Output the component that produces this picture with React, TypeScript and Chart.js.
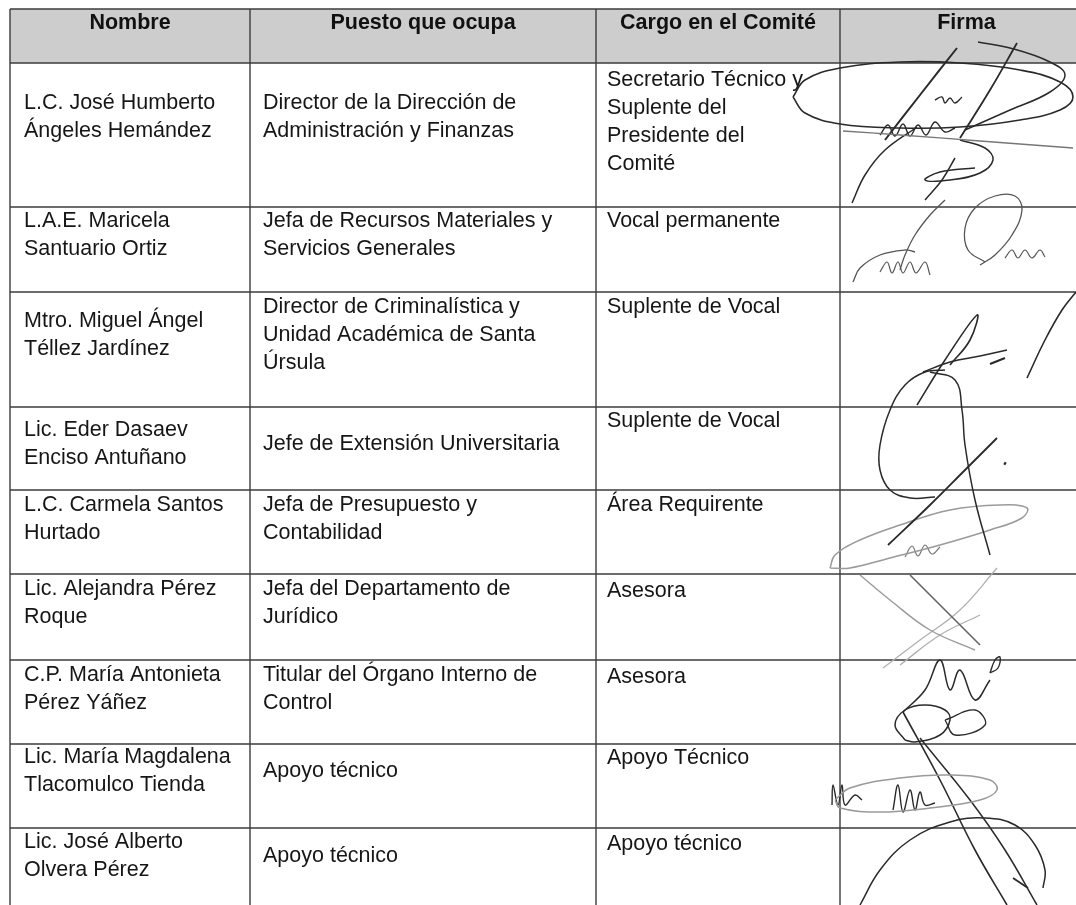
import React, { useEffect, useRef } from "react";
import { Chart, registerables } from "chart.js";

Chart.register(...registerables);

// ---------- table content ----------
const headers = ["Nombre", "Puesto que ocupa", "Cargo en el Comité", "Firma"];

const names = [
  "L.C. José Humberto\nÁngeles Hemández",
  "L.A.E. Maricela\nSantuario Ortiz",
  "Mtro. Miguel Ángel\nTéllez Jardínez",
  "Lic. Eder Dasaev\nEnciso Antuñano",
  "L.C. Carmela Santos\nHurtado",
  "Lic. Alejandra Pérez\nRoque",
  "C.P. María Antonieta\nPérez Yáñez",
  "Lic. María Magdalena\nTlacomulco Tienda",
  "Lic. José Alberto\nOlvera Pérez",
];

const puestos = [
  "Director de la Dirección de\nAdministración y Finanzas",
  "Jefa de Recursos Materiales y\nServicios Generales",
  "Director de Criminalística y\nUnidad Académica de Santa\nÚrsula",
  "Jefe de Extensión Universitaria",
  "Jefa de Presupuesto y\nContabilidad",
  "Jefa del Departamento de\nJurídico",
  "Titular del Órgano Interno de\nControl",
  "Apoyo técnico",
  "Apoyo técnico",
];

const cargos = [
  "Secretario Técnico y\nSuplente del\nPresidente del\nComité",
  "Vocal permanente",
  "Suplente de Vocal",
  "Suplente de Vocal",
  "Área Requirente",
  "Asesora",
  "Asesora",
  "Apoyo Técnico",
  "Apoyo técnico",
];

// ---------- layout (in scale units = page pixels) ----------
const colEdges = [10, 250, 596, 840, 1093];
const rowEdges = [9, 63, 207, 292, 407, 490, 574, 660, 744, 828];
const textX = [24, 263, 607];
const nameOffsets = [40, 14, 29, 23, 15, 15, 15, 13, 14];
const puestoOffsets = [40, 14, 15, 37, 15, 15, 15, 27, 28];
const cargoOffsets = [17, 14, 15, 14, 15, 17, 17, 14, 16];
const LINE_H = 28;

// ---------- signature strokes ----------
type P = [number, number];
const sig1Ellipse: P[] = [[793, 97], [805, 80], [840, 68], [900, 62], [960, 63], [1020, 70], [1060, 82], [1073, 97], [1060, 110], [1020, 120], [960, 127], [900, 128], [840, 124], [805, 113], [793, 97]];
const sig1Tail: P[] = [[843, 131], [900, 135], [980, 141], [1073, 148]];
const sig1Diag1: P[] = [[957, 48], [920, 95], [885, 140]];
const sig1Diag2: P[] = [[1017, 43], [990, 90], [960, 138]];
const sig1Curve: P[] = [[852, 203], [865, 175], [885, 150], [917, 127]];
const sig1Loop: P[] = [[978, 42], [1010, 48], [1050, 62], [1065, 75], [1050, 92], [1010, 110], [965, 130]];
const sig1Lower: P[] = [[960, 140], [985, 148], [993, 160], [980, 173], [950, 180], [925, 180], [940, 172], [975, 168]];
const sig1Desc: P[] = [[955, 158], [942, 180], [925, 200]];
const sig1Scrib: P[] = [[880, 135], [888, 125], [895, 136], [903, 124], [910, 136], [918, 125], [926, 135], [935, 122], [945, 132], [955, 128]];
const sig1Mark: P[] = [[935, 100], [942, 97], [945, 103], [950, 98], [955, 103], [962, 97]];

const sig2Swoop: P[] = [[853, 282], [860, 268], [880, 255], [905, 250], [915, 252]];
const sig2Desc: P[] = [[945, 200], [930, 215], [915, 235], [905, 255], [900, 270]];
const sig2Uin: P[] = [[880, 272], [887, 262], [892, 273], [898, 262], [903, 273], [910, 262], [916, 273], [925, 262], [930, 275]];
const sig2O: P[] = [[985, 262], [968, 250], [965, 228], [975, 208], [995, 196], [1015, 196], [1022, 210], [1012, 235], [995, 255], [980, 265]];
const sig2Ens: P[] = [[1005, 258], [1012, 250], [1018, 258], [1025, 250], [1032, 258], [1040, 250], [1045, 257]];

const sig3Line: P[] = [[917, 405], [945, 360], [977, 315], [970, 340], [950, 365]];
const sig3Cross: P[] = [[923, 372], [950, 362], [980, 356], [1007, 350]];
const sig3Tick: P[] = [[990, 364], [1005, 358]];
const sig3Right: P[] = [[1027, 378], [1045, 340], [1062, 310], [1076, 292]];
const sig3LoopL: P[] = [[945, 370], [925, 372], [905, 385], [890, 410], [880, 445], [880, 470], [890, 490], [910, 498], [935, 497]];
const sig3LoopR: P[] = [[930, 372], [955, 380], [962, 410], [965, 445], [975, 500], [990, 555]];

const sig4Line: P[] = [[888, 545], [930, 505], [965, 470], [997, 438]];
const sig4Dot: P[] = [[1004, 463], [1006, 464]];

const sig5Ellipse: P[] = [[830, 568], [835, 555], [860, 540], [900, 525], [950, 510], [1000, 505], [1027, 508], [1022, 518], [990, 530], [940, 545], [890, 558], [850, 568], [830, 568]];
const sig5Scrib: P[] = [[905, 557], [912, 546], [918, 556], [925, 545], [932, 554], [940, 547]];

const sig6A: P[] = [[860, 575], [890, 600], [930, 630], [975, 650]];
const sig6B: P[] = [[910, 575], [935, 600], [960, 625], [980, 645]];
const sig6C: P[] = [[883, 668], [920, 640], [960, 610], [997, 568]];
const sig6D: P[] = [[900, 665], [940, 635], [980, 615]];

const sig7A: P[] = [[903, 712], [925, 690], [940, 660], [950, 690], [960, 670], [975, 700], [990, 680]];
const sig7Oval: P[] = [[990, 673], [995, 660], [1000, 657], [998, 668], [990, 673]];
const sig7Loop: P[] = [[905, 740], [895, 725], [905, 710], [925, 705], [945, 710], [950, 720], [940, 735], [915, 742], [905, 740]];
const sig7Box: P[] = [[945, 720], [955, 735], [985, 725], [975, 710], [945, 720]];

const sig8Ellipse: P[] = [[835, 800], [850, 788], [900, 778], [950, 775], [990, 780], [997, 790], [980, 800], [930, 808], [880, 812], [840, 808], [835, 800]];
const sig8Ult: P[] = [[832, 805], [833, 785], [838, 805], [842, 785], [845, 805], [855, 795], [862, 800]];
const sig8Huh: P[] = [[893, 810], [898, 785], [903, 812], [910, 790], [915, 810], [920, 792], [925, 805], [935, 803]];
const sig8Line1: P[] = [[903, 712], [940, 780], [975, 850], [1007, 905]];
const sig8Line2: P[] = [[920, 738], [970, 800], [1005, 850], [1037, 905]];

const sig9Arc: P[] = [[860, 905], [880, 870], [910, 840], [950, 822], [985, 818], [1015, 825], [1035, 845], [1045, 870], [1043, 888]];
const sig9Tick: P[] = [[1013, 878], [1028, 888]];

const INK = "#2a2a2a";
const GREY = "#9a9a9a";
const strokes: { pts: P[]; color: string; w: number }[] = [
  { pts: sig1Ellipse, color: INK, w: 1.6 },
  { pts: sig1Tail, color: "#777", w: 1.3 },
  { pts: sig1Diag1, color: INK, w: 2 },
  { pts: sig1Diag2, color: INK, w: 1.8 },
  { pts: sig1Curve, color: INK, w: 1.5 },
  { pts: sig1Loop, color: INK, w: 1.5 },
  { pts: sig1Lower, color: INK, w: 1.5 },
  { pts: sig1Desc, color: INK, w: 1.5 },
  { pts: sig1Scrib, color: INK, w: 1.4 },
  { pts: sig1Mark, color: INK, w: 1.4 },
  { pts: sig2Swoop, color: "#555", w: 1.3 },
  { pts: sig2Desc, color: "#555", w: 1.3 },
  { pts: sig2Uin, color: "#555", w: 1.2 },
  { pts: sig2O, color: "#555", w: 1.3 },
  { pts: sig2Ens, color: "#555", w: 1.2 },
  { pts: sig3Line, color: INK, w: 1.6 },
  { pts: sig3Cross, color: INK, w: 1.5 },
  { pts: sig3Tick, color: INK, w: 2 },
  { pts: sig3Right, color: INK, w: 1.6 },
  { pts: sig3LoopL, color: INK, w: 1.5 },
  { pts: sig3LoopR, color: INK, w: 1.5 },
  { pts: sig4Line, color: INK, w: 1.8 },
  { pts: sig4Dot, color: INK, w: 3 },
  { pts: sig5Ellipse, color: GREY, w: 1.5 },
  { pts: sig5Scrib, color: "#777", w: 1.2 },
  { pts: sig6A, color: GREY, w: 1.4 },
  { pts: sig6B, color: "#666", w: 1.6 },
  { pts: sig6C, color: "#b0b0b0", w: 1.3 },
  { pts: sig6D, color: "#b0b0b0", w: 1.3 },
  { pts: sig7A, color: INK, w: 1.5 },
  { pts: sig7Oval, color: INK, w: 1.4 },
  { pts: sig7Loop, color: INK, w: 1.5 },
  { pts: sig7Box, color: INK, w: 1.3 },
  { pts: sig8Ellipse, color: GREY, w: 1.5 },
  { pts: sig8Ult, color: INK, w: 1.4 },
  { pts: sig8Huh, color: INK, w: 1.4 },
  { pts: sig8Line1, color: INK, w: 1.6 },
  { pts: sig8Line2, color: INK, w: 1.5 },
  { pts: sig9Arc, color: INK, w: 1.5 },
  { pts: sig9Tick, color: INK, w: 1.8 },
];

const W = 1076;
const H = 905;
const FONT = '"Liberation Sans", Arial, Helvetica, sans-serif';

const tablePlugin = {
  id: "tablePlugin",
  beforeDatasetsDraw(chart: any) {
    const { ctx, scales } = chart;
    const x = scales.x;
    const y = scales.y;
    const px = (v: number) => x.getPixelForValue(v);
    const py = (v: number) => y.getPixelForValue(v);
    ctx.save();

    // header band
    ctx.fillStyle = "#cdcdcd";
    ctx.fillRect(px(colEdges[0]), py(rowEdges[0]), px(W) - px(colEdges[0]), py(rowEdges[1]) - py(rowEdges[0]));

    // grid
    ctx.strokeStyle = "#3c3c3c";
    ctx.lineWidth = 1.4;
    ctx.beginPath();
    colEdges.forEach((c) => {
      ctx.moveTo(px(c), py(rowEdges[0]));
      ctx.lineTo(px(c), py(H));
    });
    rowEdges.forEach((r) => {
      ctx.moveTo(px(colEdges[0]), py(r));
      ctx.lineTo(px(W), py(r));
    });
    ctx.stroke();

    // header text
    ctx.fillStyle = "#111";
    ctx.textBaseline = "middle";
    ctx.textAlign = "center";
    ctx.font = `bold 21.5px ${FONT}`;
    headers.forEach((h, i) => {
      ctx.fillText(h, px((colEdges[i] + colEdges[i + 1]) / 2), py(rowEdges[0] + 14));
    });

    // body text
    ctx.textAlign = "left";
    ctx.font = `21.5px ${FONT}`;
    ctx.fillStyle = "#161616";
    const cols = [
      { texts: names, offs: nameOffsets },
      { texts: puestos, offs: puestoOffsets },
      { texts: cargos, offs: cargoOffsets },
    ];
    cols.forEach((col, ci) => {
      col.texts.forEach((t, ri) => {
        const top = rowEdges[ri + 1];
        t.split("\n").forEach((line, li) => {
          ctx.fillText(line, px(textX[ci]), py(top + col.offs[ri] + li * LINE_H));
        });
      });
    });
    ctx.restore();
  },
};

export default function App() {
  const ref = useRef<HTMLCanvasElement | null>(null);
  useEffect(() => {
    if (!ref.current) return;
    const chart = new Chart(ref.current, {
      type: "scatter",
      data: {
        datasets: strokes.map((s) => ({
          data: s.pts.map(([a, b]) => ({ x: a, y: b })),
          showLine: true,
          borderColor: s.color,
          backgroundColor: s.color,
          borderWidth: s.w,
          pointRadius: 0,
          tension: 0.4,
          fill: false,
          clip: false as any,
        })),
      },
      options: {
        responsive: false,
        animation: false,
        events: [],
        layout: { padding: 0 },
        plugins: { legend: { display: false }, tooltip: { enabled: false } },
        scales: {
          x: { type: "linear", min: 0, max: W, display: false },
          y: { type: "linear", min: 0, max: H, reverse: true, display: false },
        },
      },
      plugins: [tablePlugin],
    });
    return () => chart.destroy();
  }, []);

  return (
    <div style={{ position: "fixed", left: 0, top: 0, width: W, height: H, background: "#fff" }}>
      <canvas ref={ref} width={W} height={H} style={{ display: "block", width: W, height: H }} />
    </div>
  );
}
